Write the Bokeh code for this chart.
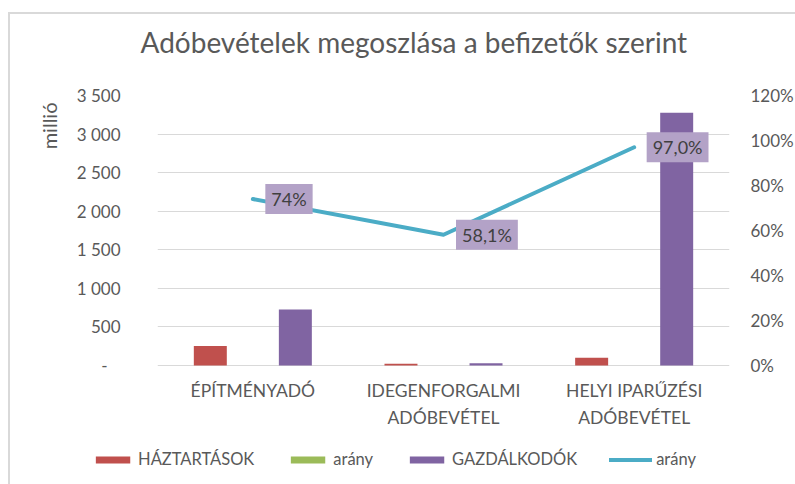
from bokeh.plotting import figure
from bokeh.models import (ColumnDataSource, Range1d, LinearAxis, FixedTicker,
                          CustomJSTickFormatter, NumeralTickFormatter, Legend,
                          LegendItem, Label, Title, FactorRange)
from bokeh.transform import dodge
from bokeh.embed import file_html
from bokeh.resources import INLINE

# ---- data ----
categories = ["ÉPÍTMÉNYADÓ", "IDEGENFORGALMI\nADÓBEVÉTEL", "HELYI IPARŰZÉSI\nADÓBEVÉTEL"]
haztartasok = [252, 22, 100]          # millió
gazdalkodok = [725, 30.5, 3275]       # millió
arany_green = [0.74, 0.581, 0.97]     # "arány" bar series (invisible at this scale)
arany = [0.74, 0.581, 0.97]           # "arány" line, right axis
arany_labels = ["74%", "58,1%", "97,0%"]
left_ticks = [0, 500, 1000, 1500, 2000, 2500, 3000, 3500]
right_ticks = [0, 0.2, 0.4, 0.6, 0.8, 1.0, 1.2]
Y_MAX = 3500
P_MAX = 1.2

FONT = "Lato"
TXT = "#595959"
RED = "#C0504D"
GREEN = "#9BBB59"
PURPLE = "#8064A2"
BLUE = "#4BACC6"
LABEL_BG = "#B3A2C7"
GRID = "#D9D9D9"

# layout (pixels)
FW = 572
PLOT_H = 270            # height of the value area (0 .. 3500)
FH = 354                # frame also holds the category labels below the zero line
EXTRA = FH - PLOT_H
ML, MT, MR, MB = 147, 81, 65, 28
CAT_FIRST, CAT_PITCH = 25, 26.5   # category label lines below the zero line (px)

def px_to_val(px):
    return px * Y_MAX / PLOT_H

src = ColumnDataSource(dict(cat=categories, haz=haztartasok, gaz=gazdalkodok,
                            green=arany_green, arany=arany, lab=arany_labels))

p = figure(frame_width=FW, frame_height=FH,
           x_range=FactorRange(*categories, range_padding=0),
           y_range=Range1d(-px_to_val(EXTRA), Y_MAX),
           x_axis_location=None,
           output_backend="svg", toolbar_location=None,
           min_border_left=ML, min_border_right=MR,
           min_border_top=MT, min_border_bottom=MB)
p.styles = {"border-left": "2px solid #D9D9D9", "border-top": "2px solid #D9D9D9",
            "margin-top": "12px", "margin-left": "8px"}
p.extra_y_ranges = {"pct": Range1d(-EXTRA * P_MAX / PLOT_H, P_MAX)}
p.outline_line_color = None
p.background_fill_color = "white"
p.border_fill_color = "white"

# chart title (blank second line keeps it clear of the plot area)
p.title.text = "Adóbevételek megoszlása a befizetők szerint\n\u00a0"
p.title.align = "left"
p.title.offset = -17
p.title.standoff = 6
p.title.vertical_align = "bottom"
p.title.text_font = FONT
p.title.text_font_size = "28px"
p.title.text_line_height = 1.0
p.title.text_font_style = "normal"
p.title.text_color = TXT

OFF = 0.223
W = 0.173
r_haz = p.vbar(x=dodge("cat", -OFF, range=p.x_range), top="haz", width=W,
               source=src, fill_color=RED, line_color=None)
r_green = p.vbar(x=dodge("cat", 0, range=p.x_range), top="green", width=W,
                 source=src, fill_color=GREEN, line_color=None)
r_gaz = p.vbar(x=dodge("cat", OFF, range=p.x_range), top="gaz", width=W,
               source=src, fill_color=PURPLE, line_color=None)
r_line = p.line(x="cat", y="arany", source=src, y_range_name="pct",
                line_color=BLUE, line_width=4, line_cap="round", line_join="round")
# invisible renderer used only to balance the legend's horizontal position
r_blank = p.line(x="cat", y="arany", source=src, y_range_name="pct",
                 line_alpha=0)

# data labels of the line
for i, (v, t) in enumerate(zip(arany, arany_labels)):
    p.add_layout(Label(x=i + 0.5, y=v, y_range_name="pct", text=t,
                       x_offset=12.5, text_align="left", text_baseline="middle",
                       text_font=FONT, text_font_size="18px", text_color="#404040",
                       background_fill_color=LABEL_BG,
                       padding=dict(left=6, right=6, top=4, bottom=4)))

# category labels (x axis), one Label per text line
for i, cat in enumerate(categories):
    for k, line in enumerate(cat.split("\n")):
        p.add_layout(Label(x=i + 0.5, y=-px_to_val(CAT_FIRST + k * CAT_PITCH),
                           text=line, text_align="center", text_baseline="middle",
                           text_font=FONT, text_font_size="17.5px", text_color=TXT))

# grid and axes
p.ygrid.ticker = FixedTicker(ticks=left_ticks)
p.ygrid.grid_line_color = GRID
p.ygrid.grid_line_width = 1
p.xgrid.grid_line_color = None
p.xgrid.visible = False

ya = p.yaxis[0]
ya.ticker = FixedTicker(ticks=left_ticks)
ya.formatter = CustomJSTickFormatter(code="""
if (tick == 0) { return '-\u00a0\u00a0\u00a0'; }
return tick.toString().replace(/\\B(?=(\\d{3})+(?!\\d))/g, ' ');
""")
ya.axis_line_color = None
ya.major_tick_line_color = None
ya.minor_tick_line_color = None
ya.major_tick_out = 0
ya.major_tick_in = 0
ya.major_label_standoff = 37
ya.major_label_text_font = FONT
ya.major_label_text_font_size = "17px"
ya.major_label_text_color = TXT

ra = LinearAxis(y_range_name="pct", ticker=FixedTicker(ticks=right_ticks),
                formatter=NumeralTickFormatter(format="0%"))
ra.axis_line_color = None
ra.major_tick_line_color = None
ra.minor_tick_line_color = None
ra.major_tick_out = 0
ra.major_tick_in = 0
ra.major_label_standoff = 21
ra.major_label_text_font = FONT
ra.major_label_text_font_size = "17px"
ra.major_label_text_color = TXT
p.add_layout(ra, "right")

# y axis title "millió"
t_left = Title(text="millió", align="right", offset=7, standoff=25,
               text_font=FONT, text_font_size="20px", text_font_style="normal",
               text_color=TXT)
p.add_layout(t_left, "left")

legend = Legend(items=[
    LegendItem(label="HÁZTARTÁSOK", renderers=[r_haz]),
    LegendItem(label="arány", renderers=[r_green]),
    LegendItem(label="GAZDÁLKODÓK", renderers=[r_gaz]),
    LegendItem(label="arány", renderers=[r_line]),
    LegendItem(label="\u00a0", renderers=[r_blank]),
], orientation="horizontal", location="top_center")
legend.border_line_color = None
legend.background_fill_alpha = 0
legend.label_text_font = FONT
legend.label_text_font_size = "16.5px"
legend.label_text_color = TXT
legend.glyph_width = 43
legend.glyph_height = 9
legend.label_height = 9
legend.spacing = 32
legend.label_standoff = 4
legend.margin = 0
legend.padding = 0
p.add_layout(legend, "below")

open("out.html", "w").write(file_html(p, INLINE))
